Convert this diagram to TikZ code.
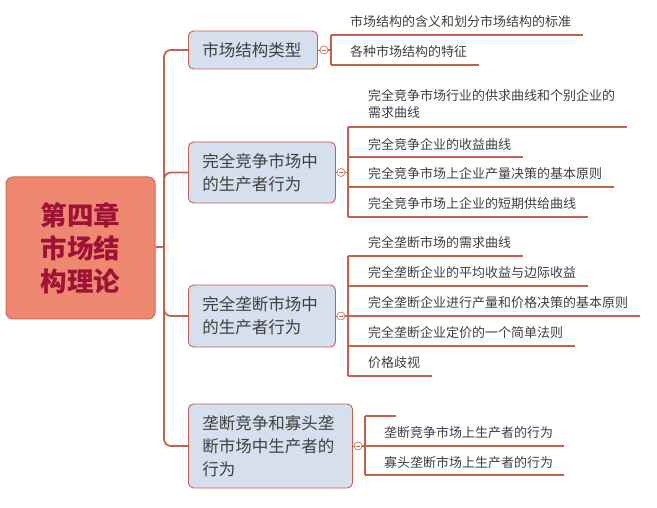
\documentclass[tikz,border=0pt]{standalone}
\usepackage{fontspec}
\setmainfont{Noto Sans CJK SC}
\definecolor{ln}{HTML}{C4614A}
\definecolor{boxfill}{HTML}{D6DFEE}
\definecolor{rootfill}{HTML}{EF8870}
\definecolor{rootdraw}{HTML}{D56850}
\definecolor{roottext}{HTML}{9E1236}
\definecolor{txt}{HTML}{404040}
\tikzset{
  rootbox/.style={draw=rootdraw, fill=rootfill, line width=1pt, rounded corners=7pt,
    minimum width=149pt, minimum height=142pt, align=center, text=roottext,
    font=\fontsize{26.5}{33}\selectfont\bfseries, inner sep=0pt},
  topic/.style={draw=ln, fill=boxfill, line width=0.9pt, rounded corners=5pt,
    inner xsep=14pt, inner ysep=0pt, align=left, text=txt, anchor=west,
    font=\fontsize{16.5}{23}\selectfont},
  leaf/.style={inner sep=0pt, anchor=west, align=left, text=txt,
    font=\fontsize{13}{17}\selectfont},
  tog/.style={circle, draw=ln!80, fill=white, line width=0.8pt, minimum size=8pt, inner sep=0pt,
    path picture={\draw[ln, line width=0.7pt] ([xshift=-2pt]path picture bounding box.center) -- ([xshift=2pt]path picture bounding box.center);}},
  trunk/.style={draw=ln, line width=1.8pt, rounded corners=7pt},
  uline/.style={draw=ln, line width=1.8pt},
}
\begin{document}
\begin{tikzpicture}[x=1pt,y=-1pt]
\useasboundingbox[fill=white] (0,0) rectangle (657,508);

% root
\node[rootbox] (root) at (80.5,248) {第四章\\市场结\\构理论};

% topics
\node[topic, text width=101pt, minimum height=38pt] (b1) at (188,50) {市场结构类型};
\node[topic, text width=119pt, minimum height=61pt] (b2) at (188,172.5) {完全竞争市场中\\的生产者行为};
\node[topic, text width=119pt, minimum height=62pt] (b3) at (188,316) {完全垄断市场中\\的生产者行为};
\node[topic, text width=136pt, minimum height=84pt] (b4) at (188,446) {垄断竞争和寡头垄\\断市场中生产者的\\行为};

% trunk
\coordinate (tr) at (164,247);
\draw[uline] (root.east |- tr) -- (tr);
\foreach \b in {b1,b2,b3,b4}{
  \draw[trunk] (tr) |- (\b.west);
}

% toggles
\node[tog] (c1) at (324,50) {};
\node[tog] (c2) at (341,172.5) {};
\node[tog] (c3) at (341,316) {};
\node[tog] (c4) at (358,446) {};
\draw[ln, line width=0.9pt] (b1.east) -- (c1.west);
\draw[ln, line width=0.9pt] (b2.east) -- (c2.west);
\draw[ln, line width=0.9pt] (b3.east) -- (c3.west);
\draw[ln, line width=0.9pt] (b4.east) -- (c4.west);

% ---- branch 1 leaves
\node[leaf] (l11) at (350,22) {市场结构的含义和划分市场结构的标准};
\node[leaf] (l12) at (350,52) {各种市场结构的特征};
\coordinate (k11) at (331,35);
\coordinate (k12) at (331,65);
\draw[uline] (c1.east) -- (331,50);
\draw[uline] (k11) -- (k12);
\draw[uline] (k11) -- ([xshift=12pt]l11.east |- k11);
\draw[uline] (k12) -- ([xshift=12pt]l12.east |- k12);

% ---- branch 2 leaves
\node[leaf] (l21) at (368,104.5) {完全竞争市场行业的供求曲线和个别企业的\\需求曲线};
\node[leaf] (l22) at (368,144) {完全竞争企业的收益曲线};
\node[leaf] (l23) at (368,174) {完全竞争市场上企业产量决策的基本原则};
\node[leaf] (l24) at (368,204) {完全竞争市场上企业的短期供给曲线};
\coordinate (k21) at (348,127);
\coordinate (k22) at (348,157);
\coordinate (k23) at (348,187);
\coordinate (k24) at (348,217);
\draw[uline] (c2.east) -- (348,172.5);
\draw[uline] (k21) -- (k24);
\draw[uline] (k21) -- ([xshift=12pt]l21.east |- k21);
\draw[uline] (k22) -- ([xshift=12pt]l22.east |- k22);
\draw[uline] (k23) -- ([xshift=12pt]l23.east |- k23);
\draw[uline] (k24) -- ([xshift=12pt]l24.east |- k24);

% ---- branch 3 leaves
\node[leaf] (l31) at (368,243) {完全垄断市场的需求曲线};
\node[leaf] (l32) at (368,273) {完全垄断企业的平均收益与边际收益};
\node[leaf] (l33) at (368,303) {完全垄断企业进行产量和价格决策的基本原则};
\node[leaf] (l34) at (368,333) {完全垄断企业定价的一个简单法则};
\node[leaf] (l35) at (368,363) {价格歧视};
\coordinate (k31) at (348,256);
\coordinate (k32) at (348,286);
\coordinate (k33) at (348,316);
\coordinate (k34) at (348,346);
\coordinate (k35) at (348,376);
\draw[uline] (c3.east) -- (k33);
\draw[uline] (k31) -- (k35);
\draw[uline] (k31) -- ([xshift=12pt]l31.east |- k31);
\draw[uline] (k32) -- ([xshift=12pt]l32.east |- k32);
\draw[uline] (k33) -- ([xshift=12pt]l33.east |- k33);
\draw[uline] (k34) -- ([xshift=12pt]l34.east |- k34);
\draw[uline] (k35) -- ([xshift=12pt]l35.east |- k35);

% ---- branch 4 leaves
\node[leaf] (l41) at (384,433) {垄断竞争市场上生产者的行为};
\node[leaf] (l42) at (384,463) {寡头垄断市场上生产者的行为};
\coordinate (k40) at (365,416);
\coordinate (k41) at (365,446);
\coordinate (k42) at (365,475);
\draw[uline] (c4.east) -- (k41);
\draw[uline] (k40) -- (k42);
\draw[uline] (k40) -- (396,416);
\draw[uline] (k41) -- ([xshift=11pt]l41.east |- k41);
\draw[uline] (k42) -- ([xshift=11pt]l42.east |- k42);
\end{tikzpicture}
\end{document}
